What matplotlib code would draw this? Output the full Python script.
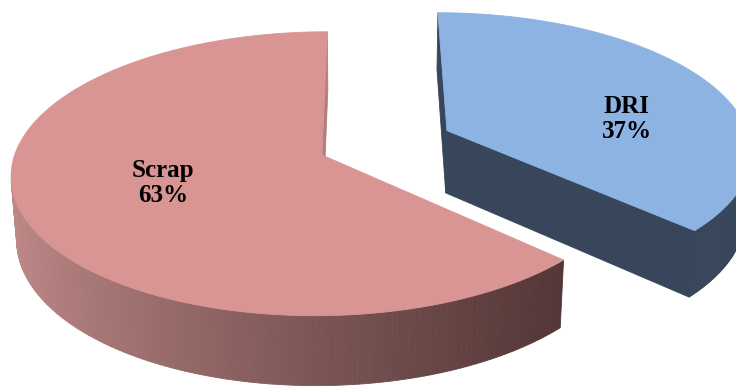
import numpy as np
import matplotlib
matplotlib.use("Agg")
import matplotlib.pyplot as plt
from matplotlib.patches import Polygon
from matplotlib.colors import to_rgb

# Data: slices run clockwise from 12 o'clock
labels = ["DRI", "Scrap"]
shares = [37, 63]
explode = [0.45, 0.0]

top_colors = ["#8DB3E2", "#D99594"]
wall_colors = ["#37465A", None]          # None -> shaded gradient wall
edge_wall_colors = ["#37465A", "#B47D7C"]
grad_light = np.array(to_rgb("#BE8987"))
grad_dark = np.array(to_rgb("#533636"))
label_nudge = [(22, 19), (17, -6)]       # pixel nudges for the data labels

# Camera / pie geometry (pie radius = 1)
W, H = 736, 387
ELEV = np.radians(27.0)
DIST = 6.75
FOCAL = 2074.0
CAM_X = 0.15
SCREEN_C = (368.0, 155.0)
THICK = 0.235
LABEL_R = 0.6

ce, se = np.cos(ELEV), np.sin(ELEV)
cam = np.array([CAM_X, -DIST * ce, DIST * se])


def project(x, y, z):
    x = np.asarray(x, float); y = np.asarray(y, float); z = np.asarray(z, float)
    depth = y * ce - z * se + DIST
    xs = x - CAM_X
    ys = y * se + z * ce
    return SCREEN_C[0] + FOCAL * xs / depth, SCREEN_C[1] - FOCAL * ys / depth, depth


fig = plt.figure(figsize=(W / 100, H / 100), dpi=100)
ax = fig.add_axes([0, 0, 1, 1])
ax.set_xlim(0, W)
ax.set_ylim(H, 0)
ax.axis("off")

total = float(sum(shares))
bounds = np.concatenate([[0.0], np.cumsum(shares) / total * 2 * np.pi])

slices = []
for i, lab in enumerate(labels):
    p0, p1 = bounds[i], bounds[i + 1]
    mid = 0.5 * (p0 + p1)
    off = explode[i] * np.array([np.sin(mid), np.cos(mid)])
    slices.append(dict(i=i, p0=p0, p1=p1, mid=mid, off=off))

# far slices first
slices.sort(key=lambda s: -project(s["off"][0], s["off"][1], 0)[2])

for s in slices:
    i, p0, p1, off = s["i"], s["p0"], s["p1"], s["off"]
    phi = np.linspace(p0, p1, 240)
    rx = off[0] + np.sin(phi)
    ry = off[1] + np.cos(phi)
    faces = []

    # curved outer wall
    Xt, Yt, Dt = project(rx, ry, 0)
    Xb, Yb, Db = project(rx, ry, -THICK)
    xmin, xmax = Xt.min(), Xt.max()
    for k in range(len(phi) - 1):
        pm = 0.5 * (phi[k] + phi[k + 1])
        n = np.array([np.sin(pm), np.cos(pm), 0.0])
        pt = np.array([off[0] + n[0], off[1] + n[1], -THICK / 2])
        if np.dot(cam - pt, n) <= 0:
            continue
        poly = [(Xt[k], Yt[k]), (Xt[k + 1], Yt[k + 1]),
                (Xb[k + 1], Yb[k + 1]), (Xb[k], Yb[k])]
        if wall_colors[i] is None:
            t = np.clip((0.5 * (Xt[k] + Xt[k + 1]) - xmin) / (xmax - xmin), 0, 1) ** 0.8
            col = grad_light + (grad_dark - grad_light) * t
        else:
            col = wall_colors[i]
        faces.append((0.5 * (Dt[k] + Dt[k + 1]), poly, col))

    # radial walls at both slice edges
    for ang, normal_ang in ((p0, p0 - np.pi / 2), (p1, p1 + np.pi / 2)):
        n = np.array([np.sin(normal_ang), np.cos(normal_ang), 0.0])
        ex, ey = off[0] + np.sin(ang), off[1] + np.cos(ang)
        pt = np.array([0.5 * (off[0] + ex), 0.5 * (off[1] + ey), -THICK / 2])
        if np.dot(cam - pt, n) <= 0:
            continue
        xs_ = [off[0], ex, ex, off[0]]
        ys_ = [off[1], ey, ey, off[1]]
        zs_ = [0, 0, -THICK, -THICK]
        X, Y, Dd = project(xs_, ys_, zs_)
        faces.append((Dd.mean() + 0.5, list(zip(X, Y)), edge_wall_colors[i]))

    faces.sort(key=lambda f: -f[0])
    for _, poly, col in faces:
        ax.add_patch(Polygon(poly, closed=True, facecolor=col, edgecolor=col,
                             linewidth=0.6, antialiased=True))

    # top face
    X, Y, _ = project(np.r_[off[0], rx], np.r_[off[1], ry], np.zeros(len(rx) + 1))
    ax.add_patch(Polygon(list(zip(X, Y)), closed=True, facecolor=top_colors[i],
                         edgecolor=top_colors[i], linewidth=0.6))

    # data label
    lx, ly, _ = project(off[0] + LABEL_R * np.sin(s["mid"]),
                        off[1] + LABEL_R * np.cos(s["mid"]), 0)
    ax.text(lx + label_nudge[i][0], ly + label_nudge[i][1],
            f"{labels[i]}\n{shares[i]}%", ha="center", va="center",
            fontsize=18, fontweight="bold", family="Liberation Serif",
            linespacing=1.1, color="black")

fig.savefig("out.png", dpi=100)
